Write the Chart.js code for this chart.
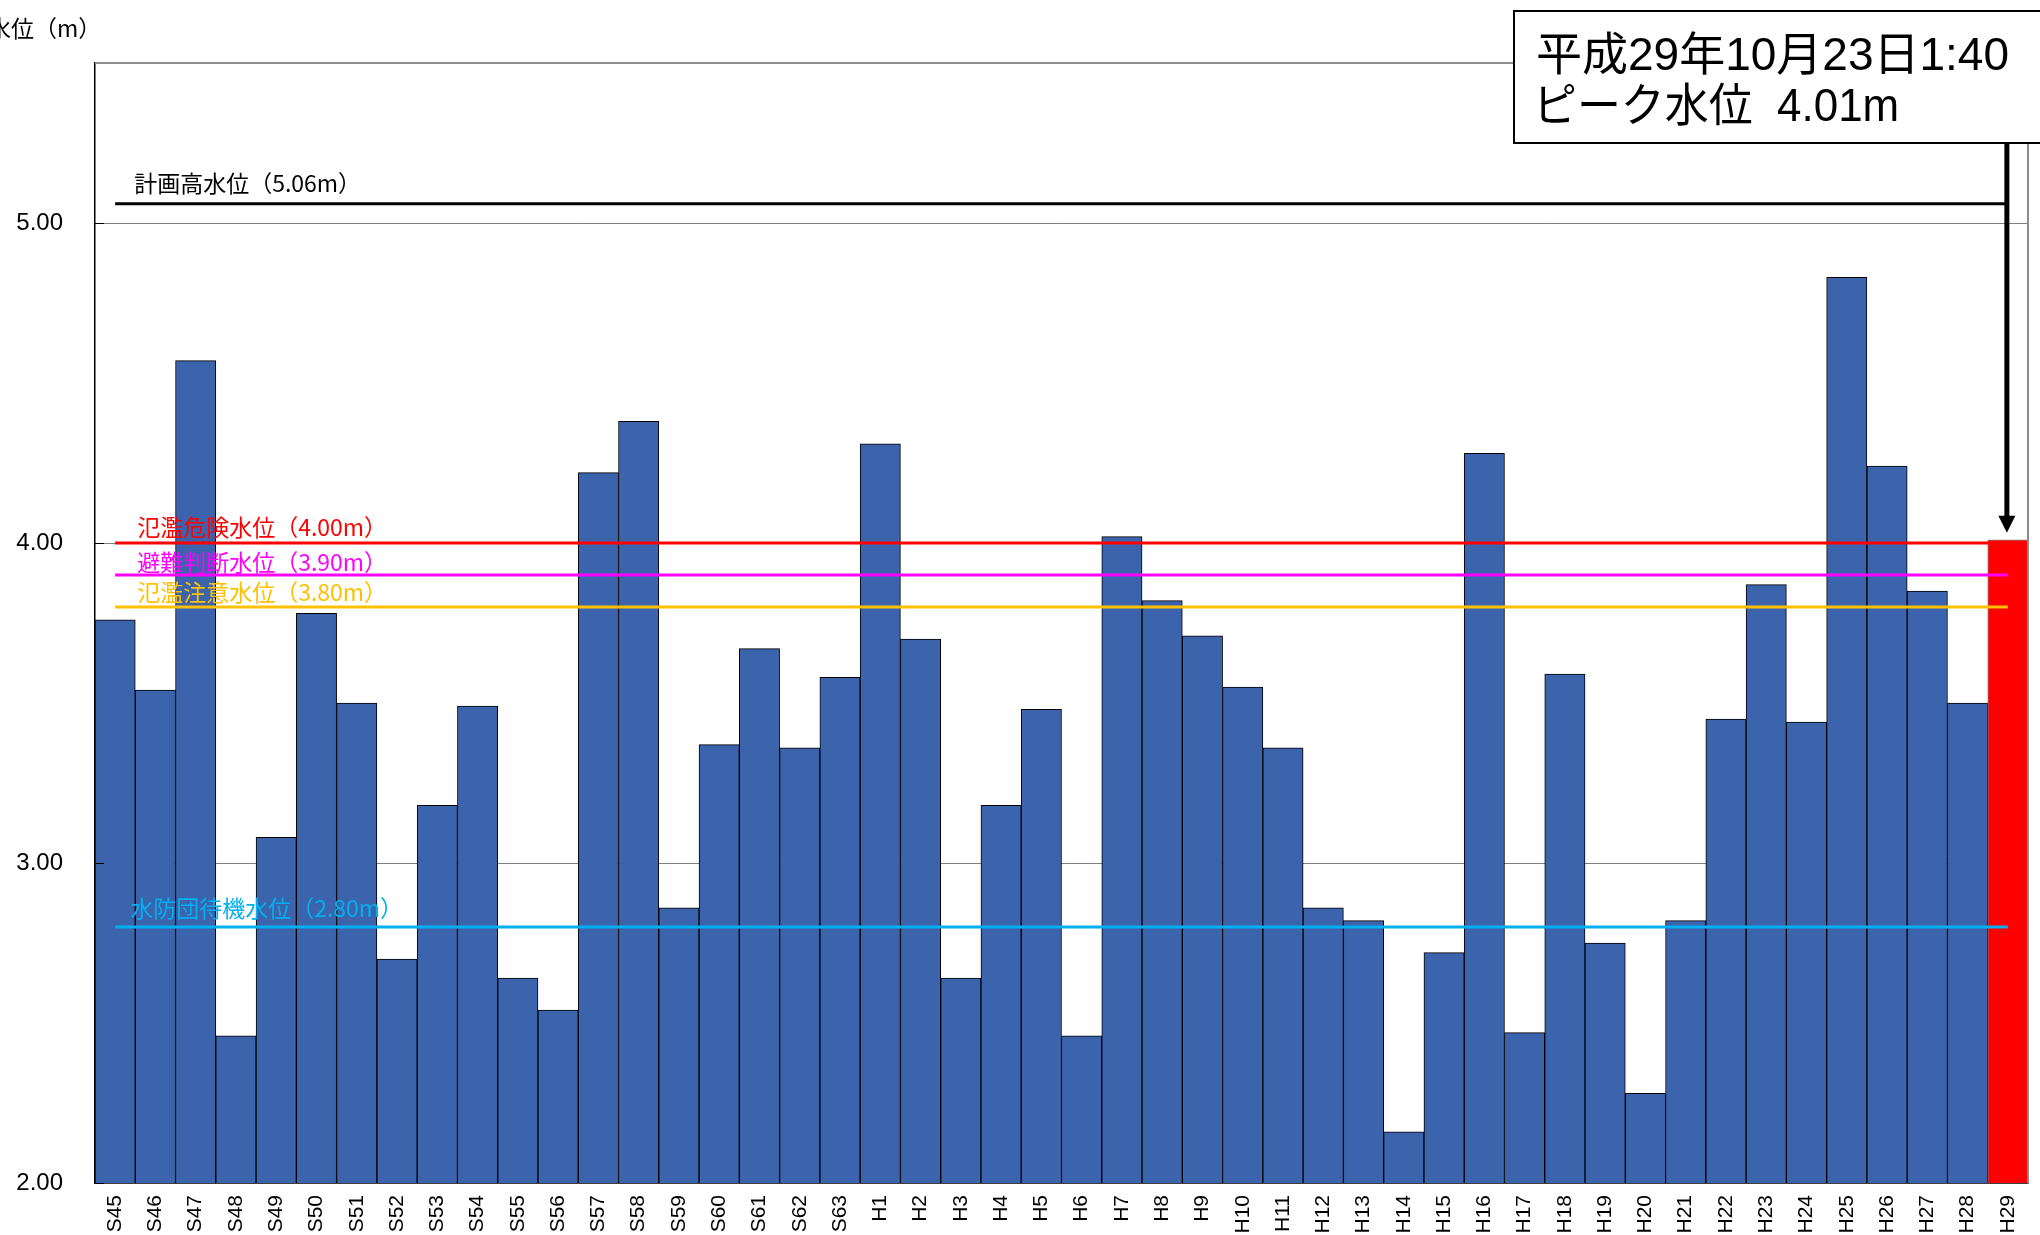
<!DOCTYPE html>
<html>
<head>
<meta charset="utf-8">
<script src="https://cdn.jsdelivr.net/npm/chart.js@4.4.1/dist/chart.umd.min.js"></script>
<style>
html,body{margin:0;padding:0;background:#ffffff;}
#wrap{width:2040px;height:1235px;position:relative;overflow:hidden;}
canvas{display:block;}
</style>
</head>
<body>
<div id="wrap"><canvas id="c" width="2040" height="1235"></canvas></div>
<script>
// ---- data ----
const categories = ['S45','S46','S47','S48','S49','S50','S51','S52','S53','S54','S55','S56','S57','S58','S59','S60','S61','S62','S63',
  'H1','H2','H3','H4','H5','H6','H7','H8','H9','H10','H11','H12','H13','H14','H15','H16','H17','H18','H19','H20','H21','H22','H23','H24','H25','H26','H27','H28','H29'];
const peakLevels = [3.76,3.54,4.57,2.46,3.08,3.78,3.50,2.70,3.18,3.49,2.64,2.54,4.22,4.38,2.86,3.37,3.67,3.36,3.58,
  4.31,3.70,2.64,3.18,3.48,2.46,4.02,3.82,3.71,3.55,3.36,2.86,2.82,2.16,2.72,4.28,2.47,3.59,2.75,2.28,2.82,3.45,3.87,3.44,4.83,4.24,3.85,3.50,4.01];
const highlightCategory = 'H29';
const thresholdNames = ['計画高水位（5.06m）','氾濫危険水位（4.00m）','避難判断水位（3.90m）','氾濫注意水位（3.80m）','水防団待機水位（2.80m）'];
const thresholdValues = [5.06, 4.00, 3.90, 3.80, 2.80];
const yTickValues = [2, 3, 4, 5];
const yAxisTitle = '水位（m）';
const annotationLines = ['平成29年10月23日1:40', 'ピーク水位  4.01m'];

// ---- styles ----
const barBlue = '#3C64AC';
const barRed = '#FF0000';
const thresholdColors = ['#000000','#FF0000','#FF00FF','#FFC000','#00B0F0'];
const labelOffsetY = [-21,-16,-13,-15,-19];
const labelOffsetX = [19,22,22,22,15];
const FONT = "'Liberation Sans', Arial, 'Noto Sans CJK JP', sans-serif";
const CJKFONT = "'Noto Sans CJK JP', 'Liberation Sans', sans-serif";

const barColors = categories.map(c => c === highlightCategory ? barRed : barBlue);
const barBorders = categories.map(c => c === highlightCategory ? '#808080' : '#000000');

const lineDatasets = thresholdValues.map((v, i) => ({
  type: 'line',
  label: thresholdNames[i],
  data: [{x: categories[0], y: v}, {x: categories[categories.length - 1], y: v}],
  borderColor: thresholdColors[i],
  borderWidth: 3,
  pointRadius: 0,
  fill: false,
  borderCapStyle: 'butt',
  order: 0
}));

const overlayPlugin = {
  id: 'overlay',
  afterDraw(chart) {
    const ctx = chart.ctx;
    const xs = chart.scales.x, ys = chart.scales.y;
    const ca = chart.chartArea;
    ctx.save();
    // frame: top & right gray
    ctx.strokeStyle = '#8c8c8c';
    ctx.lineWidth = 2;
    ctx.beginPath();
    ctx.moveTo(ca.left, ca.top);
    ctx.lineTo(ca.right, ca.top);
    ctx.lineTo(ca.right, ca.bottom);
    ctx.stroke();
    // inner tick marks
    ctx.strokeStyle = '#000000';
    ctx.lineWidth = 1;
    yTickValues.forEach(v => {
      const y = Math.round(ys.getPixelForValue(v)) + 0.5;
      ctx.beginPath(); ctx.moveTo(ca.left, y); ctx.lineTo(ca.left + 9, y); ctx.stroke();
    });
    // threshold labels
    ctx.font = '23px ' + CJKFONT;
    ctx.textBaseline = 'middle';
    ctx.textAlign = 'left';
    thresholdValues.forEach((v, i) => {
      ctx.fillStyle = thresholdColors[i];
      ctx.fillText(thresholdNames[i], xs.getPixelForValue(0) + labelOffsetX[i], ys.getPixelForValue(v) + labelOffsetY[i]);
    });
    // y axis title
    ctx.fillStyle = '#000000';
    ctx.font = '23px ' + CJKFONT;
    ctx.fillText(yAxisTitle, -12, 28);
    // annotation box
    const bx = 1514, by = 11, bw = 540, bh = 132;
    ctx.fillStyle = '#ffffff';
    ctx.fillRect(bx, by, bw, bh);
    ctx.strokeStyle = '#000000';
    ctx.lineWidth = 2;
    ctx.strokeRect(bx, by, bw, bh);
    ctx.fillStyle = '#000000';
    ctx.font = '46px ' + FONT;
    ctx.textBaseline = 'alphabetic';
    ctx.fillText(annotationLines[0], 1536, 70);
    ctx.save();
    ctx.translate(1533, 121);
    ctx.scale(0.955, 1);
    ctx.fillText(annotationLines[1], 0, 0);
    ctx.restore();
    // arrow
    const hi = categories.indexOf(highlightCategory);
    const ax = xs.getPixelForValue(hi) - 1;
    const tip = ys.getPixelForValue(peakLevels[hi]) - 7;
    ctx.lineWidth = 5;
    ctx.beginPath();
    ctx.moveTo(ax, by + bh);
    ctx.lineTo(ax, tip - 14);
    ctx.stroke();
    ctx.beginPath();
    ctx.moveTo(ax - 8.5, tip - 17);
    ctx.lineTo(ax + 8.5, tip - 17);
    ctx.lineTo(ax, tip);
    ctx.closePath();
    ctx.fill();
    ctx.restore();
  }
};

new Chart(document.getElementById('c'), {
  type: 'bar',
  data: {
    labels: categories,
    datasets: [
      {
        type: 'bar',
        label: 'ピーク水位',
        data: peakLevels,
        backgroundColor: barColors,
        borderColor: barBorders,
        borderWidth: 1,
        borderSkipped: false,
        barPercentage: 1.0,
        categoryPercentage: 1.0,
        order: 1
      },
      ...lineDatasets
    ]
  },
  options: {
    responsive: false,
    animation: false,
    devicePixelRatio: 1,
    layout: { padding: { left: 0, top: 63, right: 12, bottom: 0 } },
    plugins: { legend: { display: false }, tooltip: { enabled: false } },
    scales: {
      x: {
        type: 'category',
        grid: { display: false, drawTicks: false },
        border: { display: true, color: '#000000', width: 1.5 },
        ticks: {
          color: '#000000',
          font: { size: 21, family: FONT },
          maxRotation: 90,
          minRotation: 90,
          autoSkip: false,
          padding: 12
        },
        afterFit(scale) { scale.height = 52; scale.paddingLeft = 0; scale.paddingRight = 0; }
      },
      y: {
        min: 2,
        max: 5.5,
        grid: { color: '#7f7f7f', lineWidth: 1, drawTicks: false },
        border: { display: true, color: '#000000', width: 1.5 },
        afterBuildTicks(scale) { scale.ticks = yTickValues.map(v => ({ value: v })); },
        ticks: {
          color: '#000000',
          font: { size: 24, family: FONT },
          padding: 32,
          callback: v => Number(v).toFixed(2)
        },
        afterFit(scale) { scale.width = 95; scale.paddingTop = 0; scale.paddingBottom = 0; }
      }
    }
  },
  plugins: [overlayPlugin]
});
</script>
</body>
</html>
